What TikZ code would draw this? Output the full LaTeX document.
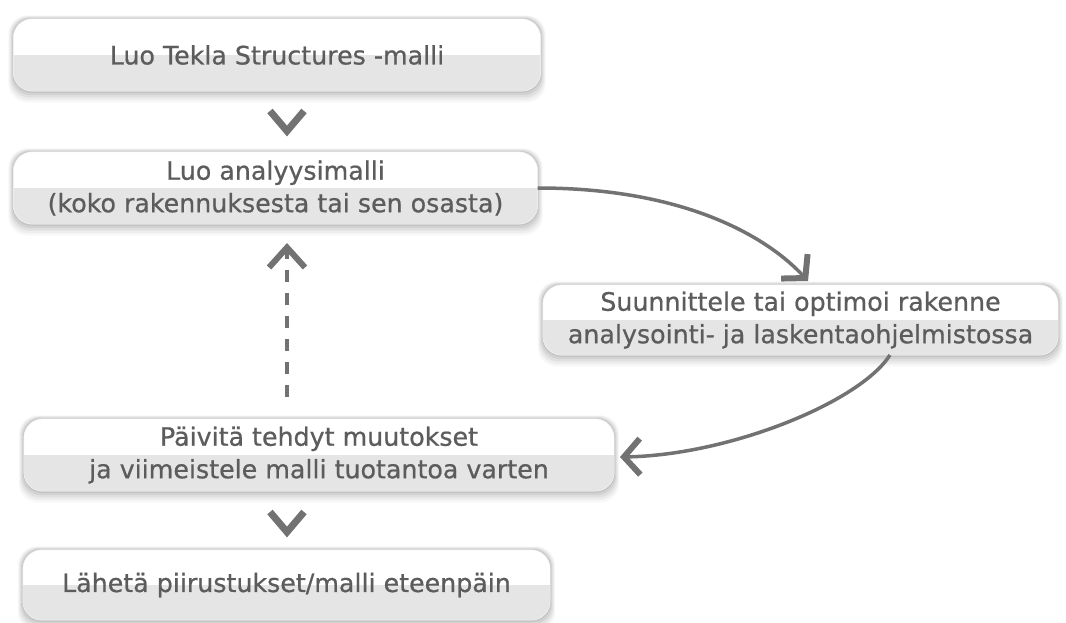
\documentclass[tikz,border=0pt]{standalone}
\usepackage{fontspec}
\setmainfont{DejaVu Sans}
\newfontfamily\boxfont{DejaVu Sans}[FakeBold=0.7]
\usetikzlibrary{arrows.meta,backgrounds}
\definecolor{txt}{HTML}{5C5C5C}
\definecolor{arr}{HTML}{727272}
\definecolor{boxgray}{HTML}{E5E5E5}
\tikzset{
  flowbox/.style={text=txt, align=center, inner sep=0pt,
    font=\boxfont\fontsize{25.3}{32.5}\selectfont},
  boxshape/.style={rounded corners=19pt},
  chevron/.style={draw=arr, line width=7pt, line join=miter, line cap=butt},
  conn/.style={draw=arr, line width=3.5pt,
    -{Straight Barb[length=16pt, width=36pt, line width=6pt]}},
  dashconn/.style={draw=arr, line width=4pt, dash pattern=on 12pt off 11pt,
    -{Straight Barb[length=20pt, width=36pt, line width=6pt]}},
}
\newcommand\boxbg[1]{%
  \begin{scope}[on background layer]
    \foreach \s/\o in {14/0.03,11/0.04,8/0.05,5/0.06,2/0.07}{
      \fill[black, opacity=\o, boxshape] ([xshift=-\s*0.35pt, yshift=\s*0.25pt]#1.north west) rectangle ([xshift=\s*0.35pt, yshift=-\s*0.8pt]#1.south east);
    }
    \fill[white, boxshape] (#1.north west) rectangle (#1.south east);
    \begin{scope}
      \clip[boxshape] (#1.north west) rectangle (#1.south east);
      \fill[boxgray] (#1.west) rectangle (#1.south east);
    \end{scope}
    \draw[black!5, line width=0.5pt, boxshape] (#1.north west) rectangle (#1.south east);
  \end{scope}}
\begin{document}
\begin{tikzpicture}[x=1pt, y=-1pt]
\useasboundingbox (0,0) rectangle (1066,622);
\begin{scope}[on background layer]
  \fill[white] (0,0) rectangle (1066,622);
\end{scope}

\node[flowbox, minimum width=527pt, minimum height=72pt] (b1) at (277,55) {Luo Tekla Structures -malli};
\node[flowbox, minimum width=524pt, minimum height=72pt] (b2) at (275.5,188) {Luo analyysimalli\\(koko rakennuksesta tai sen osasta)};
\node[flowbox, minimum width=515pt, minimum height=70pt] (b3) at (800.5,320) {Suunnittele tai optimoi rakenne\\analysointi- ja laskentaohjelmistossa};
\node[flowbox, minimum width=590pt, minimum height=72pt] (b4) at (319,455) {Päivitä tehdyt muutokset\\ja viimeistele malli tuotantoa varten};
\node[flowbox, minimum width=527pt, minimum height=70pt] (b5) at (286.5,585) {Lähetä piirustukset/malli eteenpäin};
\boxbg{b1}\boxbg{b2}\boxbg{b3}\boxbg{b4}\boxbg{b5}

% chevrons between boxes
\coordinate (c1l) at (270,111); \coordinate (c1m) at (287,131); \coordinate (c1r) at (304,111);
\draw[chevron] (c1l) -- (c1m) -- (c1r);
\coordinate (c2l) at (270,512); \coordinate (c2m) at (287,532); \coordinate (c2r) at (304,512);
\draw[chevron] (c2l) -- (c2m) -- (c2r);

% dashed feedback arrow
\coordinate (d0) at (287,397);
\coordinate (d1) at (287,243);
\draw[dashconn] (d0) -- (d1);

% curved arrows
\coordinate (a1) at (808,281);
\draw[conn] (b2.east) .. controls (690,188) and (770,240) .. (a1);
\coordinate (s2) at (890,355);
\coordinate (a2) at (620,457);
\draw[conn] (s2) .. controls (860,402) and (730,455) .. (a2);
\end{tikzpicture}
\end{document}
